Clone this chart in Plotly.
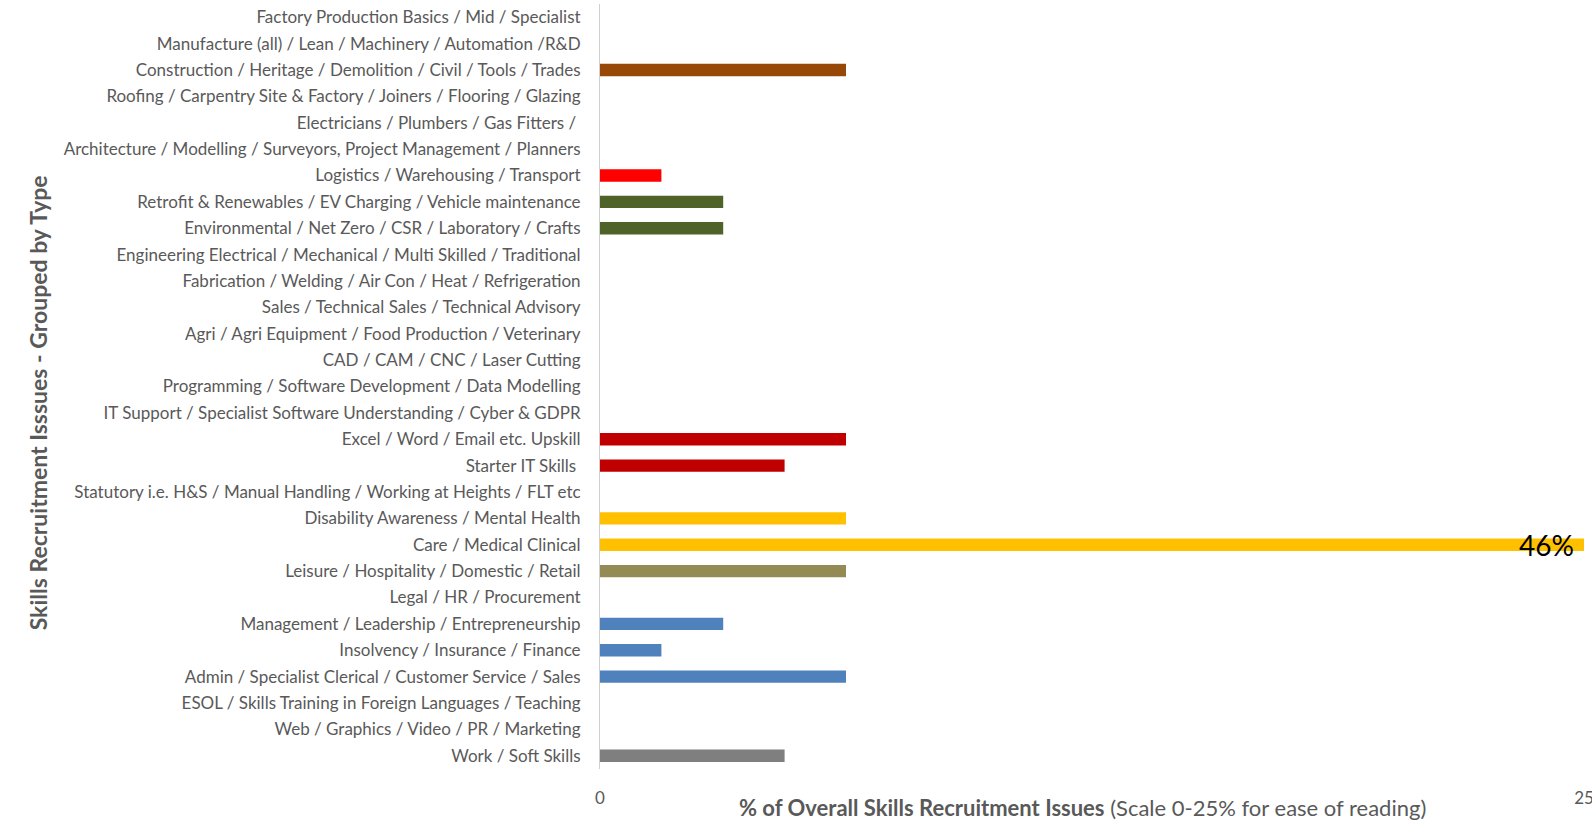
import plotly.graph_objects as go

# Kategori dari bawah ke atas (urutan sumbu y)
categories = [
    "Work / Soft Skills",
    "Web / Graphics / Video / PR / Marketing",
    "ESOL / Skills Training in Foreign Languages / Teaching",
    "Admin / Specialist Clerical / Customer Service / Sales",
    "Insolvency / Insurance / Finance",
    "Management / Leadership / Entrepreneurship",
    "Legal / HR / Procurement",
    "Leisure / Hospitality / Domestic / Retail",
    "Care / Medical Clinical",
    "Disability Awareness / Mental Health",
    "Statutory i.e. H&S / Manual Handling / Working at Heights / FLT etc",
    "Starter IT Skills ",
    "Excel / Word / Email etc. Upskill",
    "IT Support / Specialist Software Understanding / Cyber & GDPR",
    "Programming / Software Development / Data Modelling",
    "CAD / CAM / CNC / Laser Cutting",
    "Agri / Agri Equipment / Food Production / Veterinary",
    "Sales / Technical Sales / Technical Advisory",
    "Fabrication / Welding / Air Con / Heat / Refrigeration",
    "Engineering Electrical / Mechanical / Multi Skilled / Traditional",
    "Environmental / Net Zero / CSR / Laboratory / Crafts",
    "Retrofit & Renewables / EV Charging / Vehicle maintenance",
    "Logistics / Warehousing / Transport",
    "Architecture / Modelling / Surveyors, Project Management / Planners",
    "Electricians / Plumbers / Gas Fitters / ",
    "Roofing / Carpentry Site & Factory / Joiners / Flooring / Glazing",
    "Construction / Heritage / Demolition / Civil / Tools / Trades",
    "Manufacture (all) / Lean / Machinery / Automation /R&D",
    "Factory Production Basics / Mid / Specialist",
]

values = [4.69, 0, 0, 6.25, 1.56, 3.13, 0, 6.25, 46, 6.25,
          0, 4.69, 6.25, 0, 0, 0, 0, 0, 0, 0,
          3.13, 3.13, 1.56, 0, 0, 0, 6.25, 0, 0]

colors = ["#7F7F7F", "#4F81BD", "#4F81BD", "#4F81BD", "#4F81BD", "#4F81BD",
          "#948A54", "#948A54", "#FFC000", "#FFC000",
          "#C00000", "#C00000", "#C00000", "#C00000", "#C00000", "#C00000",
          "#4F6228", "#4F6228", "#4F6228", "#4F6228", "#4F6228", "#4F6228",
          "#FF0000", "#974706", "#974706", "#974706", "#974706", "#974706", "#974706"]

x_max = 25
TEXT = "#595959"
FONT = "Lato, Open Sans, sans-serif"

fig = go.Figure(go.Bar(
    x=values, y=categories, orientation="h",
    marker=dict(color=colors, line=dict(width=0)),
    width=0.47, hoverinfo="x+y"))

# Label untuk batang yang terpotong (di luar skala 0-25)
big = max(range(len(values)), key=lambda i: values[i])
fig.add_annotation(
    x=x_max, y=categories[big], xref="x", yref="y",
    text=f"{values[big]:.0f}%", showarrow=False, xanchor="right",
    xshift=-8, font=dict(size=28, color="#000000", family=FONT))

fig.add_annotation(
    x=-578 / 984, y=0.478, xref="paper", yref="paper",
    text="<b>Skills Recruitment Isssues - Grouped by Type</b>",
    textangle=-90, showarrow=False,
    font=dict(size=23, color=TEXT, family=FONT))

fig.add_annotation(
    x=0.49, y=-38 / 765, xref="paper", yref="paper", yanchor="middle",
    text="<b>% of Overall Skills Recruitment Issues</b> (Scale 0-25% for ease of reading)",
    showarrow=False, font=dict(size=22, color=TEXT, family=FONT))

fig.update_layout(
    width=1592, height=822,
    paper_bgcolor="white", plot_bgcolor="white",
    margin=dict(l=600, r=8, t=4, b=53, autoexpand=False),
    font=dict(family=FONT, color=TEXT, size=17),
    showlegend=False, bargap=0.53,
)
fig.update_xaxes(range=[0, x_max], tickvals=[0, x_max], showgrid=False,
                 zeroline=False, showline=False, ticks="",
                 ticklabelstandoff=17, ticklabeloverflow="allow",
                 tickfont=dict(size=17, color=TEXT), fixedrange=True)
fig.update_yaxes(type="category", showgrid=False, zeroline=False,
                 showline=True, linecolor="#D0D0D0", linewidth=1,
                 ticks="", ticklabelstandoff=15, automargin=False,
                 tickfont=dict(size=17, color=TEXT), fixedrange=True)

fig.write_html("out.html", config={"displayModeBar": False},
               post_script="document.body.style.margin='0';")
